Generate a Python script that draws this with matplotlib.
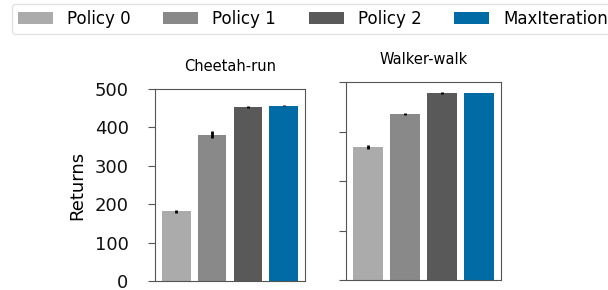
import numpy as np
import matplotlib
matplotlib.use("Agg")
import matplotlib.pyplot as plt

policies = ["Policy 0", "Policy 1", "Policy 2", "MaxIteration"]
colors = ["#ABABAB", "#898989", "#595959", "#006BA4"]

cheetah_mean = [181, 381, 454, 457]
cheetah_err = [4, 9, 3, 2]
walker_mean = [672, 838, 944, 944]
walker_err = [8, 4, 3, 2]

fig = plt.figure(figsize=(6.08, 2.90), dpi=100)
ax1 = fig.add_axes([155 / 608, 9 / 290, 150 / 608, 192 / 290])
ax2 = fig.add_axes([346 / 608, 10 / 290, 155 / 608, 198 / 290])

x = np.arange(len(policies))
spine_col = "#555555"


def draw(ax, means, errs, title, ymax):
    bars = ax.bar(x, means, width=0.8, color=colors, label=policies)
    ax.errorbar(x, means, yerr=errs, fmt="none", ecolor="black", elinewidth=2, capsize=0)
    ax.set_ylim(0, ymax)
    ax.set_xticks([])
    for s in ax.spines.values():
        s.set_color(spine_col)
    ax.tick_params(axis="y", colors=spine_col, labelcolor="#111111", length=5,
                   labelsize=13, pad=14)
    ax.set_title(title, fontsize=10.5, pad=13)
    return bars


bars = draw(ax1, cheetah_mean, cheetah_err, "Cheetah-run", 500)
ax1.set_yticks([0, 100, 200, 300, 400, 500])
ax1.set_ylabel("Returns", fontsize=13, labelpad=6)

draw(ax2, walker_mean, walker_err, "Walker-walk", 1000)
ax2.set_yticks([0, 250, 500, 750, 1000])
ax2.set_yticklabels([])

fig.legend(bars, policies, loc="upper left", bbox_to_anchor=(12 / 608, 1 - 4 / 290),
           ncol=4, fontsize=12, handlelength=2.1, handletextpad=0.85,
           columnspacing=1.95, frameon=True, edgecolor="#dddddd", fancybox=True,
           borderaxespad=0, borderpad=0.35)

fig.savefig("out.png", dpi=100)
